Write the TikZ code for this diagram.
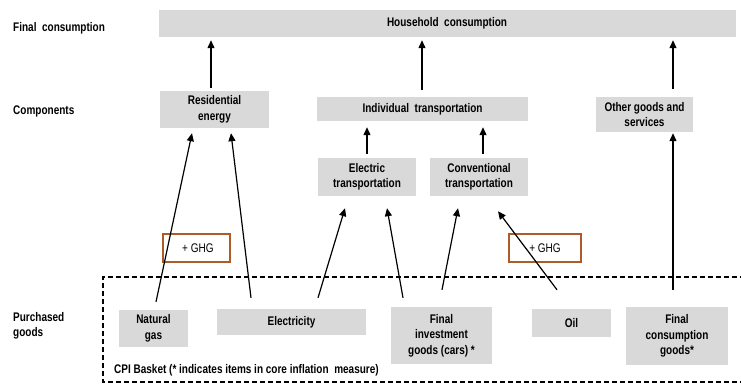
\documentclass[tikz,border=0pt]{standalone}
\usepackage{fontspec}
\setmainfont{Liberation Sans}[FakeStretch=0.8]
\usetikzlibrary{arrows.meta}
\definecolor{boxgray}{RGB}{217,217,217}
\definecolor{ghgbrown}{RGB}{172,92,40}
\tikzset{
  box/.style={fill=boxgray, inner sep=0pt, align=center,
    font=\fontsize{12.5}{15.5}\selectfont\bfseries},
  ghgbox/.style={draw=ghgbrown, line width=1.2pt, inner sep=0pt,
    minimum width=#1, minimum height=28pt, font=\fontsize{12.5}{15}\selectfont},
  arr/.style={line width=1.2pt, -{Triangle[length=8pt,width=7pt]}},
  rowlabel/.style={anchor=west, align=left, inner sep=0pt,
    font=\fontsize{12.5}{15.5}\selectfont\bfseries}
}
\begin{document}
\begin{tikzpicture}[x=1pt, y=-1pt]
  \useasboundingbox (0,0) rectangle (741,384);

  % Row labels
  \node[rowlabel] (lfinal) at (13,28) {Final \ consumption};
  \node[rowlabel] (lcomp) at (13,111) {Components};
  \node[rowlabel] (lpurch) at (13,326) {Purchased\\goods};

  % CPI basket
  \draw[line width=1.2pt, dash pattern=on 5pt off 3pt]
    (745,277) -- (103,277) -- (103,382) -- (745,382);
  \node[anchor=west, inner sep=0pt, font=\fontsize{12.5}{15}\selectfont\bfseries]
    (cpi) at (114,370) {CPI Basket (* indicates items in core inflation \ measure)};

  % Final consumption
  \node[box, minimum width=577pt, minimum height=27pt] (household) at (447,23.5) {Household \ consumption};

  % Components
  \node[box, minimum width=109pt, minimum height=37pt] (resenergy) at (214.5,109.5) {Residential\\energy};
  \node[box, minimum width=211pt, minimum height=24pt] (indtrans) at (422.5,109) {Individual \ transportation};
  \node[box, minimum width=97pt, minimum height=35pt] (other) at (644.5,114.5) {Other goods and\\services};
  \node[box, minimum width=98pt, minimum height=38pt] (electrans) at (367,177) {Electric\\transportation};
  \node[box, minimum width=98pt, minimum height=38pt] (convtrans) at (479,177) {Conventional\\transportation};

  % Purchased goods
  \node[box, minimum width=69pt, minimum height=37pt] (natgas) at (153.5,328.5) {Natural\\gas};
  \node[box, minimum width=149pt, minimum height=26pt] (electricity) at (291.5,322) {Electricity};
  \node[box, minimum width=101pt, minimum height=57pt] (invgoods) at (441.5,335.5) {Final\\investment\\goods (cars) *};
  \node[box, minimum width=79pt, minimum height=28pt] (oil) at (571.5,323) {Oil};
  \node[box, minimum width=102pt, minimum height=58pt] (consgoods) at (677,336) {Final\\consumption\\goods*};

  % GHG add-ons
  \node[ghgbox=67pt] (ghga) at (196.5,248) {\ + GHG};
  \node[ghgbox=72pt] (ghgb) at (545,248) {+ GHG};

  % Components -> household consumption
  \draw[arr] ([xshift=-3.5pt,yshift=3pt]resenergy.north) -- ([xshift=-3.5pt,yshift=-3pt]resenergy.north |- household.south);
  \draw[arr] ([xshift=-0.5pt,yshift=7pt]indtrans.north) -- ([xshift=-0.5pt,yshift=-3pt]indtrans.north |- household.south);
  \draw[arr] ([xshift=28.5pt,yshift=8pt]other.north) -- ([xshift=28.5pt,yshift=-3pt]other.north |- household.south);

  % Transportation types -> individual transportation
  \draw[arr] ([yshift=4pt]electrans.north) -- ([yshift=-6pt]electrans.north |- indtrans.south);
  \draw[arr] ([xshift=4pt,yshift=4pt]convtrans.north) -- ([xshift=4pt,yshift=-6pt]convtrans.north |- indtrans.south);

  % Purchased goods -> components
  \draw[arr] ([xshift=2.5pt,yshift=8pt]natgas.north) -- ([xshift=-22.5pt,yshift=-5pt]resenergy.south);
  \draw[arr] ([xshift=-40.5pt,yshift=11pt]electricity.north) -- ([xshift=16.5pt,yshift=-5pt]resenergy.south);
  \draw[arr] ([xshift=26.5pt,yshift=11pt]electricity.north) -- ([xshift=-22pt,yshift=-12pt]electrans.south);
  \draw[arr] ([xshift=-38.5pt,yshift=9pt]invgoods.north) -- ([xshift=20pt,yshift=-12pt]electrans.south);
  \draw[arr] ([xshift=0.5pt,yshift=17pt]invgoods.north) -- ([xshift=-21pt,yshift=-12pt]convtrans.south);
  \draw[arr] ([xshift=-14.5pt,yshift=19pt]oil.north) -- ([xshift=19pt,yshift=-15pt]convtrans.south);
  \draw[arr] ([xshift=-4pt,yshift=17pt]consgoods.north) -- ([xshift=28.5pt,yshift=-1pt]other.south);
\end{tikzpicture}
\end{document}
